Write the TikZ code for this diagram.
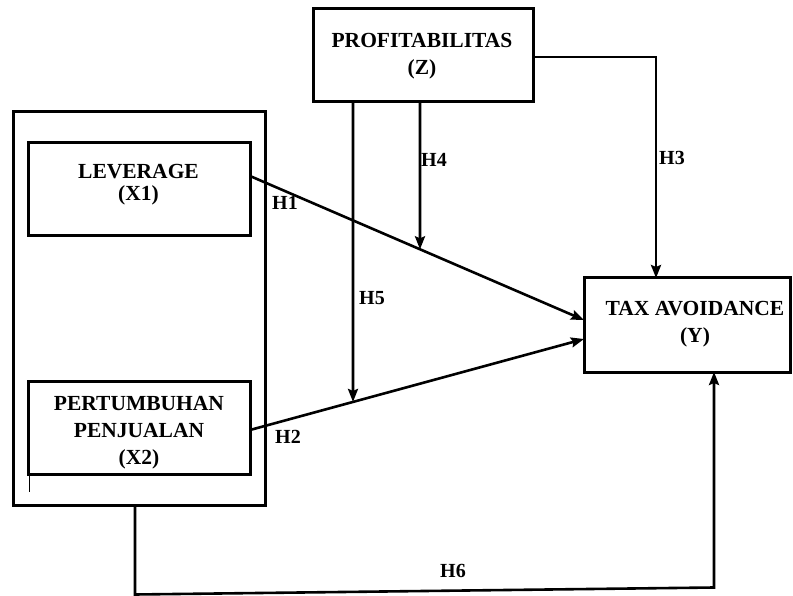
\documentclass[tikz,border=0pt]{standalone}
\usepackage{fontspec}
\setmainfont{Liberation Serif}
\usetikzlibrary{arrows.meta,calc}
\tikzset{
  boxnode/.style={draw, line width=3pt, outer sep=0pt, inner sep=0pt},
  lbl/.style={font=\bfseries\fontsize{21.5}{27}\selectfont, align=center, inner sep=0pt},
  hlbl/.style={font=\bfseries\fontsize{20}{22}\selectfont, inner sep=0pt},
  conn/.style={line width=2.6pt, -{Stealth[length=13pt,width=10pt,inset=2pt]}},
  plain/.style={line width=2.6pt}
}
\begin{document}
\begin{tikzpicture}[x=1pt,y=-1pt]
\useasboundingbox (0,0) rectangle (793,596);
% boxes
\node[boxnode, minimum width=220pt, minimum height=93pt] (prof) at (423,55.5) {};
\node[boxnode, minimum width=252pt, minimum height=393pt] (outer) at (139,308.5) {};
\node[boxnode, minimum width=222pt, minimum height=93pt] (lev) at (139,189.5) {};
\node[boxnode, minimum width=222pt, minimum height=93pt] (pert) at (139,427.5) {};
\node[boxnode, minimum width=206pt, minimum height=94pt] (tax) at (687,325) {};
% texts
\node[lbl] (proft) at (422,56.5) {PROFITABILITAS\\(Z)};
\node[lbl, font=\bfseries\fontsize{21.5}{22}\selectfont] (levt) at (138.5,185) {LEVERAGE\\(X1)};
\node[lbl] (pertt) at (139,433) {PERTUMBUHAN\\PENJUALAN\\(X2)};
\node[lbl] (taxt) at (695,324) {TAX AVOIDANCE\\(Y)};
% H1 and H2
\draw[conn] ([yshift=13.5pt]lev.east) -- ([yshift=5pt]tax.west);
\path ([yshift=13.5pt]lev.east) -- ([yshift=5pt]tax.west) coordinate[pos=0.509] (h4end);
\draw[conn] ([yshift=-2.5pt]pert.east) -- ([yshift=-14pt]tax.west);
\path ([yshift=-2.5pt]pert.east) -- ([yshift=-14pt]tax.west) coordinate[pos=0.3084] (h5end);
% H3
\draw[conn] ([yshift=-1.5pt]prof.east) -| ([xshift=-31pt]tax.north);
% H4, H5
\draw[conn] ([xshift=-3pt]prof.south) -- (h4end);
\draw[conn] ([xshift=-70pt]prof.south) -- (h5end);
% H6
\coordinate (c1) at (135,594.5);
\coordinate (c2) at (714,587.5);
\draw[conn] ([xshift=-4pt]outer.south) -- (c1) -- (c2) -- ([xshift=27pt]tax.south);
% stray mark
\coordinate (s1) at (29.5,468);
\coordinate (s2) at (29.5,492);
\draw[line width=1pt] (s1) -- (s2);
% labels
\node[hlbl] (h1) at (285,203) {H1};
\node[hlbl] (h2) at (288,437) {H2};
\node[hlbl] (h3) at (672,158) {H3};
\node[hlbl] (h4) at (434,160) {H4};
\node[hlbl] (h5) at (372,298) {H5};
\node[hlbl] (h6) at (453,571) {H6};
\end{tikzpicture}
\end{document}
